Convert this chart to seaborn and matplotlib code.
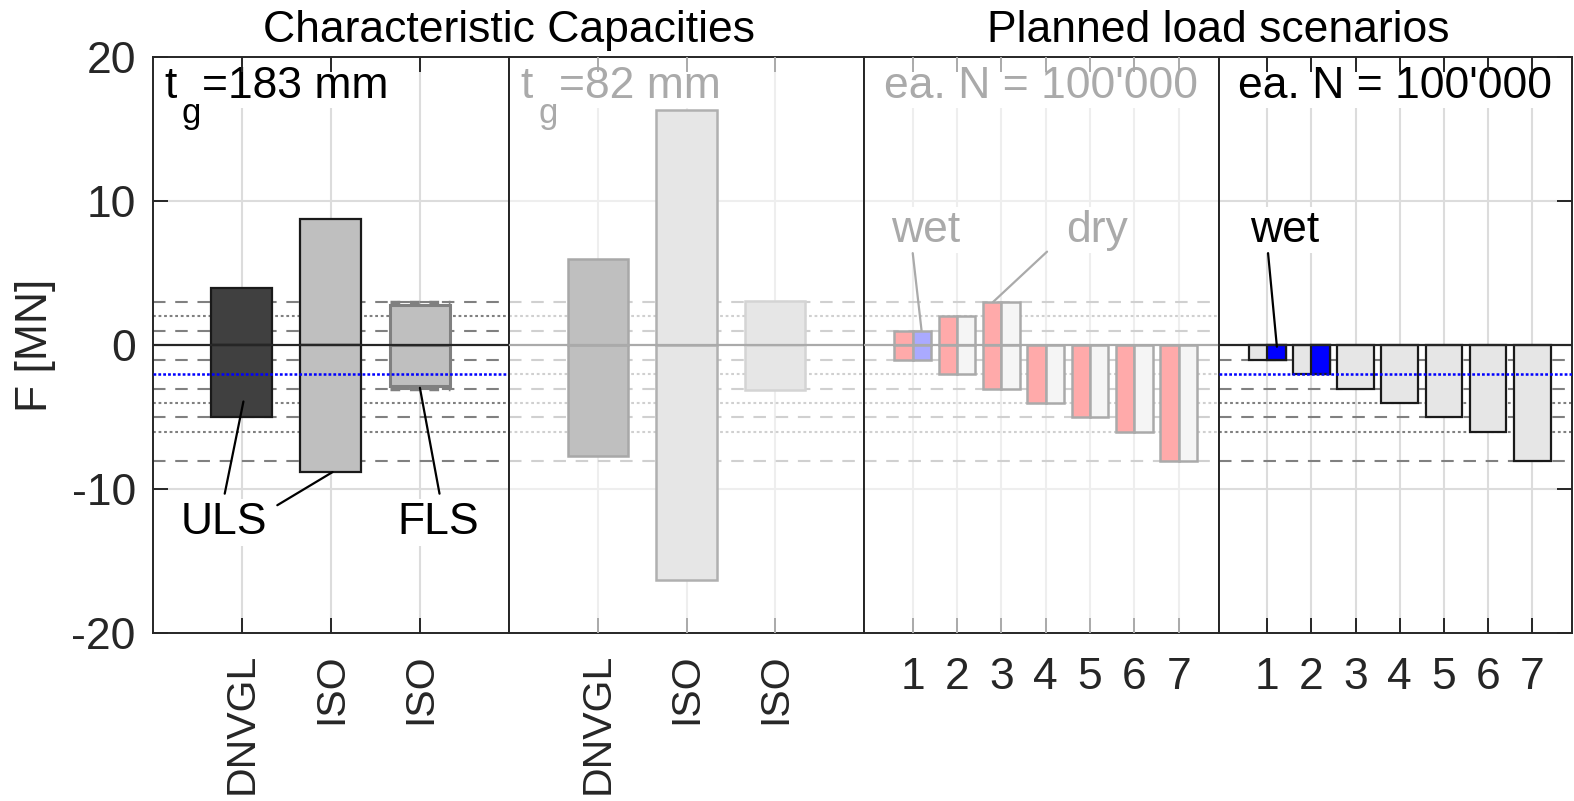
import matplotlib
matplotlib.use("Agg")
import matplotlib.pyplot as plt
import numpy as np
import pandas as pd
import seaborn as sns

# ---------------- data ----------------
cap_labels = ["DNVGL", "ISO", "ISO"]
cap_pos = [1, 2, 3]
tg183_upper = [4.0, 8.8, 2.8]
tg183_lower = [-5.0, -8.8, -2.8]
tg82_upper = [6.0, 16.3, 3.1]
tg82_lower = [-7.7, -16.3, -3.1]
fls_ref = 3.0

scenarios = [1, 2, 3, 4, 5, 6, 7]
planned_upper = [1, 2, 3, 0, 0, 0, 0]
planned_lower = [-1, -2, -3, -4, -5, -6, -8]
wet_loads = [-1, -2, -3, -4, -5, -6, -8]
wet_scenarios = [1, 2]
wet_values = [-1, -2]

ref_dashed = [3, 1, -1, -3, -5, -8]
ref_dotted = [2, -4, -6]
ref_blue = -2
y_ticks = [-20, -10, 0, 10, 20]

# ---------------- style ----------------
sns.set_theme(style="white")
plt.rcParams["font.family"] = ["Liberation Sans", "DejaVu Sans"]
plt.rcParams["lines.scale_dashes"] = False
plt.rcParams["axes.unicode_minus"] = False
FS = 32
DARK = "#262626"
DASH = (0, (9, 7))
DOT = (0, (2, 2))

fig = plt.figure(figsize=(15.74, 8.01), dpi=100)
edges = [0.0969, 0.3234, 0.5489, 0.7742, 0.9987]
bottom, top = 0.2092, 0.9286
axes = [fig.add_axes([edges[i], bottom, edges[i + 1] - edges[i], top - bottom])
        for i in range(4)]

panel_style = [
    dict(grid="#dcdcdc", ref="#808080", tick=DARK, zero=DARK, blue=True, neg_only=False),
    dict(grid="#eeeeee", ref="#d0d0d0", tick="#aaaaaa", zero="#aaaaaa", blue=False, neg_only=False),
    dict(grid="#eeeeee", ref="#d0d0d0", tick="#aaaaaa", zero="#aaaaaa", blue=False, neg_only=False),
    dict(grid="#dcdcdc", ref="#808080", tick=DARK, zero=DARK, blue=True, neg_only=True),
]


def sns_bar(ax, x, val, width, face, edge, lw):
    if val == 0:
        return
    df = pd.DataFrame({"pos": [x], "val": [val]})
    sns.barplot(data=df, x="pos", y="val", native_scale=True, orient="x",
                width=width, color=face, saturation=1, edgecolor=edge,
                linewidth=lw, errorbar=None, ax=ax, zorder=2)


def float_bar(ax, x, lo, hi, width, face, edge, lw):
    sns_bar(ax, x, hi, width, face, edge, lw)
    sns_bar(ax, x, lo, width, face, edge, lw)


def decorate(ax, st, xticks, xlim):
    ax.set_xlim(*xlim)
    ax.set_ylim(-20, 20)
    for x in xticks:
        ax.axvline(x, color=st["grid"], lw=1.5, zorder=0.5)
    for y in (-10, 10):
        ax.axhline(y, color=st["grid"], lw=1.5, zorder=0.5)
    for y in ref_dashed:
        if st["neg_only"] and y > 0:
            continue
        ax.axhline(y, color=st["ref"], lw=1.5, ls=DASH, zorder=1)
    for y in ref_dotted:
        if st["neg_only"] and y > 0:
            continue
        ax.axhline(y, color=st["ref"], lw=1.5, ls=DOT, zorder=1)
    if st["blue"]:
        ax.axhline(ref_blue, color="#0000ff", lw=1.8, ls=(0, (2, 1.5)), zorder=3.2)
    else:
        ax.axhline(ref_blue, color=st["ref"], lw=1.5, ls=DOT, zorder=1)
    ax.axhline(0, color=st["zero"], lw=1.6, zorder=3)
    ax.set_axisbelow(False)
    for s in ax.spines.values():
        s.set_color(DARK)
        s.set_linewidth(1.4)
        s.set_visible(True)
    ax.set_xlabel("")
    ax.set_ylabel("")


def label(ax, text, xy, color, lines, size=FS):
    ax.text(xy[0], xy[1], text, ha="center", va="center", fontsize=size, color=color,
            zorder=2.6, bbox=dict(fc="white", ec="none", pad=2))
    for (x0, y0), (x1, y1) in lines:
        ax.annotate("", xy=(x1, y1), xytext=(x0, y0),
                    arrowprops=dict(arrowstyle="-", color=color, lw=1.6,
                                    shrinkA=0, shrinkB=0), zorder=3)


def tg_label(ax, num, color):
    kw = dict(transform=ax.transAxes, color=color, va="baseline", ha="left",
              zorder=2.4, bbox=dict(fc="white", ec="none", pad=1))
    ax.text(0.032, 0.930, "t", fontsize=FS, **kw)
    ax.text(0.082, 0.886, "g", fontsize=FS * 0.78, **kw)
    ax.text(0.140, 0.930, f"={num} mm", fontsize=FS, **kw)


# ---------------- panel 1 : t_g = 183 mm ----------------
ax = axes[0]
face1 = ["#404040", "#bfbfbf", "#bfbfbf"]
edge1 = ["#1a1a1a", "#1a1a1a", "#808080"]
lw1 = [1.6, 1.6, 2.2]
for x, lo, hi, fc, ec, lw in zip(cap_pos, tg183_lower, tg183_upper, face1, edge1, lw1):
    float_bar(ax, x, lo, hi, 0.68, fc, ec, lw)
ax.hlines([fls_ref, -fls_ref], cap_pos[2] - 0.34, cap_pos[2] + 0.34,
          colors="#808080", lw=2.5, linestyles=[(0, (7, 7))], zorder=2.2)
decorate(ax, panel_style[0], cap_pos, (0, 4))
tg_label(ax, 183, "black")
label(ax, "ULS", (0.8, -12.3), "black",
      [((0.81, -10.3), (1.02, -3.9)), ((1.40, -11.1), (2.02, -8.8))])
label(ax, "FLS", (3.21, -12.3), "black", [((3.22, -10.3), (3.0, -2.95))])

# ---------------- panel 2 : t_g = 82 mm ----------------
ax = axes[1]
face2 = ["#bfbfbf", "#e6e6e6", "#e6e6e6"]
edge2 = ["#a8a8a8", "#b0b0b0", "#d4d4d4"]
for x, lo, hi, fc, ec in zip(cap_pos, tg82_lower, tg82_upper, face2, edge2):
    float_bar(ax, x, lo, hi, 0.68, fc, ec, 1.8)
decorate(ax, panel_style[1], cap_pos, (0, 4))
tg_label(ax, 82, "#aaaaaa")

# ---------------- panel 3 : planned, wet / dry ----------------
ax = axes[2]
half = 0.415
for s, lo, hi in zip(scenarios, planned_lower, planned_upper):
    float_bar(ax, s - half / 2, lo, hi, half, "#ffaaaa", "#aaaaaa", 1.8)
    right_face = "#aaaaff" if s == 1 else "#f5f5f5"
    float_bar(ax, s + half / 2, lo, hi, half, right_face, "#aaaaaa", 1.8)
decorate(ax, panel_style[2], scenarios, (-0.1, 7.9))
ax.text(0.5, 0.930, "ea. N = 100'000", transform=ax.transAxes, fontsize=FS,
        color="#aaaaaa", ha="center", va="baseline", zorder=2.4,
        bbox=dict(fc="white", ec="none", pad=1))
label(ax, "wet", (1.3, 8.0), "#aaaaaa", [((1.0, 6.4), (1.2, 1.0))])
label(ax, "dry", (5.15, 8.0), "#aaaaaa", [((4.03, 6.5), (2.81, 3.0))])

# ---------------- panel 4 : planned, wet ----------------
ax = axes[3]
for s, v in zip(scenarios, wet_loads):
    sns_bar(ax, s, v, 2 * half, "#e6e6e6", "#1a1a1a", 1.6)
for s, v in zip(wet_scenarios, wet_values):
    sns_bar(ax, s + half / 2, v, half, "#0000ff", "#1a1a1a", 1.6)
decorate(ax, panel_style[3], scenarios, (-0.1, 7.9))
ax.text(0.5, 0.930, "ea. N = 100'000", transform=ax.transAxes, fontsize=FS,
        color="black", ha="center", va="baseline", zorder=2.4,
        bbox=dict(fc="white", ec="none", pad=1))
label(ax, "wet", (1.4, 8.0), "black", [((1.02, 6.4), (1.22, -0.1))])

# ---------------- ticks ----------------
for i, ax in enumerate(axes):
    st = panel_style[i]
    if i < 2:
        ax.set_xticks(cap_pos)
        ax.set_xticklabels(cap_labels, rotation=90)
        xpad, xsize = 14, 29.5
    else:
        ax.set_xticks(scenarios)
        ax.set_xticklabels([str(s) for s in scenarios])
        xpad, xsize = 17, FS
    ax.set_yticks(y_ticks)
    ax.set_yticklabels([str(t) for t in y_ticks])
    ax.tick_params(axis="x", direction="in", length=11, width=1.4, color=st["tick"],
                   top=True, bottom=True, labelsize=xsize, pad=xpad, labelcolor=DARK)
    ax.tick_params(axis="y", direction="in", length=11, width=1.4, color=st["tick"],
                   left=(i == 0), right=(i == 3), labelleft=(i == 0), labelright=False,
                   labelsize=FS, pad=12, labelcolor=DARK)

axes[0].set_ylabel("F [MN]", fontsize=FS, color=DARK, labelpad=11)

fig.text(edges[1], 0.9473, "Characteristic Capacities", ha="center", va="baseline",
         fontsize=FS, color="black")
fig.text(edges[3], 0.9473, "Planned load scenarios", ha="center", va="baseline",
         fontsize=FS, color="black")

fig.savefig("out.png", dpi=100, facecolor="white")
